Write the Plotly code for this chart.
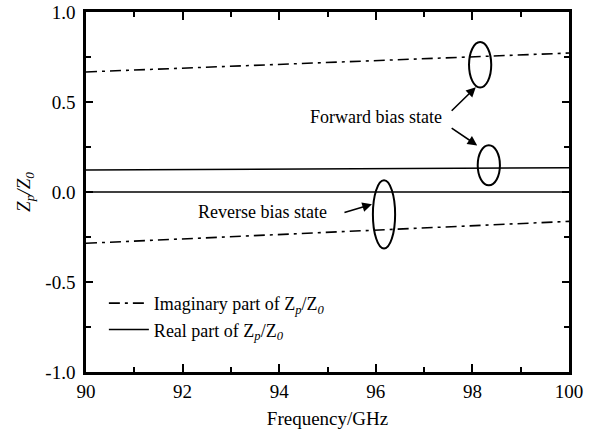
import plotly.graph_objects as go

freq = [90, 100]
imag_forward = [0.667, 0.772]
imag_reverse = [-0.285, -0.163]
real_forward = [0.122, 0.135]
real_reverse = [0.0, 0.0]

x_ticks = [90, 92, 94, 96, 98, 100]
y_ticks = [-1.0, -0.5, 0.0, 0.5, 1.0]
y_ticklabels = ["-1.0", "-0.5", "0.0", "0.5", "1.0"]

FONT = "Liberation Serif, Times New Roman, DejaVu Serif, serif"
DASHDOT = "11px,5px,3px,5px"

fig = go.Figure()
fig.add_trace(go.Scatter(x=freq, y=imag_forward, mode="lines",
                         line=dict(color="black", width=1.6, dash=DASHDOT),
                         name="Imaginary part of Z<sub><i>p</i></sub>/Z<sub><i>0</i></sub>"))
fig.add_trace(go.Scatter(x=freq, y=real_forward, mode="lines",
                         line=dict(color="black", width=1.6),
                         name="Real part of Z<sub><i>p</i></sub>/Z<sub><i>0</i></sub>"))
fig.add_trace(go.Scatter(x=freq, y=imag_reverse, mode="lines",
                         line=dict(color="black", width=1.6, dash=DASHDOT),
                         showlegend=False))
fig.add_trace(go.Scatter(x=freq, y=real_reverse, mode="lines",
                         line=dict(color="black", width=1.6),
                         showlegend=False))

# ellipses
ellipses = [(97.93, 0.58, 98.39, 0.833), (98.11, 0.037, 98.57, 0.26), (95.94, -0.314, 96.40, 0.065)]
for x0, y0, x1, y1 in ellipses:
    fig.add_shape(type="circle", xref="x", yref="y", x0=x0, y0=y0, x1=x1, y1=y1,
                  line=dict(color="black", width=2))

fig.add_annotation(x=96.0, y=0.415, text="Forward bias state", showarrow=False,
                   font=dict(family=FONT, size=18, color="black"))
fig.add_annotation(x=93.65, y=-0.11, text="Reverse bias state", showarrow=False,
                   font=dict(family=FONT, size=18, color="black"))

arrows = [((97.54, 0.443), (98.07, 0.582)),
          ((97.54, 0.36), (98.10, 0.259)),
          ((95.32, -0.117), (95.92, -0.068))]
for (tx, ty), (hx, hy) in arrows:
    fig.add_annotation(x=hx, y=hy, ax=tx, ay=ty, xref="x", yref="y", axref="x", ayref="y",
                       text="", showarrow=True, arrowhead=2, arrowsize=1.2, arrowwidth=1.6,
                       arrowcolor="black", standoff=0)

axis_common = dict(showline=True, linecolor="black", linewidth=2.5, mirror="allticks",
                   ticks="inside", tickcolor="black", tickwidth=2, showgrid=False, zeroline=False,
                   automargin=False,
                   tickfont=dict(family=FONT, size=19, color="black"))

fig.update_xaxes(range=[90, 100], tickvals=x_ticks, ticklen=8,
                 minor=dict(dtick=1, ticks="inside", ticklen=5, tickcolor="black", tickwidth=2),
                 title=dict(text="Frequency/GHz", font=dict(family=FONT, size=19, color="black"), standoff=12),
                 **axis_common)
fig.update_yaxes(range=[-1, 1], tickvals=y_ticks, ticktext=y_ticklabels, ticklen=7,
                 ticklabelstandoff=4,
                 minor=dict(dtick=0.25, ticks="inside", ticklen=5, tickcolor="black", tickwidth=2),
                 title=dict(text="<i>Z<sub>p</sub></i>/<i>Z<sub>0</sub></i>",
                            font=dict(family=FONT, size=19, color="black", style="italic"), standoff=10),
                 **axis_common)

fig.update_layout(width=595, height=434, margin=dict(l=86, r=26, t=12, b=62),
                  font=dict(family=FONT, color="black"),
                  plot_bgcolor="white", paper_bgcolor="white",
                  showlegend=True,
                  legend=dict(x=0.037, y=0.242, xanchor="left", yanchor="top",
                              bgcolor="rgba(0,0,0,0)", font=dict(family=FONT, size=18, color="black"),
                              itemwidth=40, tracegroupgap=0))

fig.write_html("out.html")
